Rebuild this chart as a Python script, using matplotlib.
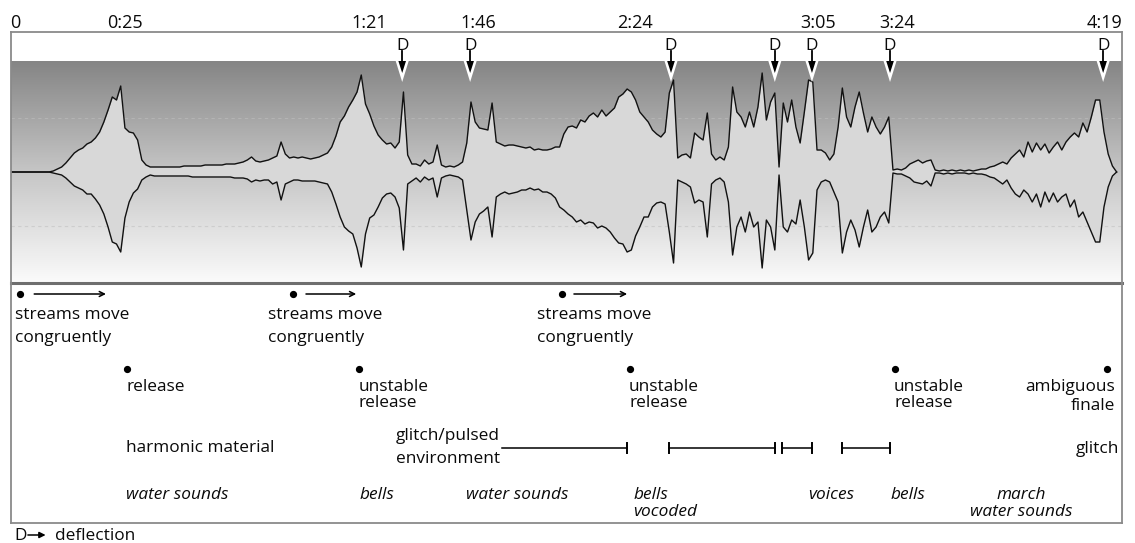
import numpy as np
import matplotlib
matplotlib.use('Agg')
import matplotlib.pyplot as plt
from matplotlib.colors import LinearSegmentedColormap
from matplotlib.patches import Polygon

plt.rcParams['font.family'] = ['Open Sans', 'DejaVu Sans']

# ---------------- data ----------------
# waveform envelope sampled once per second (amplitude, arbitrary units)
env_t = np.arange(0, 263)
env_upper = [
    0, 0, 0, 0, 0, 0, 0, 0, 0, 0,
    1, 3, 5, 9, 14, 19, 22, 24, 28, 30,
    34, 40, 50, 62, 75, 72, 86, 44, 40, 39,
    32, 12, 7, 5, 5, 5, 5, 5, 5, 5,
    5, 6, 6, 6, 6, 6, 7, 7, 7, 7,
    7, 8, 8, 8, 9, 10, 12, 15, 11, 10,
    11, 12, 14, 16, 30, 18, 14, 15, 14, 15,
    14, 13, 14, 15, 17, 19, 25, 36, 50, 56,
    65, 72, 80, 97, 68, 58, 46, 37, 32, 28,
    29, 24, 30, 80, 17, 8, 8, 6, 12, 8,
    10, 27, 7, 5, 6, 5, 7, 10, 29, 70,
    50, 44, 43, 42, 69, 30, 28, 26, 27, 27,
    26, 25, 24, 25, 22, 23, 22, 22, 23, 25,
    25, 38, 45, 46, 44, 52, 50, 56, 59, 55,
    62, 56, 60, 64, 75, 78, 83, 80, 72, 60,
    55, 50, 42, 38, 35, 40, 79, 92, 14, 17,
    18, 14, 39, 35, 32, 59, 18, 12, 15, 12,
    25, 85, 60, 55, 45, 60, 45, 65, 99, 52,
    70, 79, 5, 69, 50, 72, 45, 29, 60, 92,
    90, 22, 22, 19, 12, 18, 45, 84, 55, 45,
    65, 80, 59, 40, 55, 45, 38, 45, 55, 2,
    3, 2, 4, 8, 10, 12, 9, 11, 12, 2,
    1, 2, 1, 2, 1, 2, 1, 2, 1, 2,
    3, 3, 5, 6, 8, 10, 8, 14, 18, 22,
    15, 30, 20, 29, 22, 28, 19, 25, 30, 22,
    30, 35, 39, 35, 49, 40, 55, 72, 72, 40,
    18, 6, 0,
]
env_lower = [
    0, 0, 0, 0, 0, 0, 0, 0, 0, 0,
    1, 2, 3, 6, 10, 14, 16, 18, 22, 22,
    27, 33, 42, 55, 70, 72, 80, 46, 30, 21,
    17, 8, 5, 3, 4, 4, 4, 4, 4, 4,
    4, 4, 4, 5, 5, 5, 5, 5, 5, 5,
    5, 5, 5, 6, 6, 6, 7, 10, 8, 9,
    8, 8, 12, 10, 28, 12, 10, 8, 8, 9,
    9, 9, 9, 10, 11, 12, 20, 32, 45, 55,
    59, 62, 76, 95, 62, 46, 43, 35, 26, 22,
    21, 25, 36, 78, 12, 9, 6, 10, 5, 8,
    6, 25, 6, 4, 3, 4, 5, 8, 38, 68,
    50, 42, 39, 35, 65, 25, 22, 20, 22, 21,
    20, 18, 18, 16, 18, 17, 20, 20, 22, 26,
    35, 38, 42, 45, 50, 48, 52, 50, 51, 56,
    54, 56, 60, 66, 71, 72, 80, 78, 64, 55,
    45, 45, 35, 31, 30, 32, 60, 91, 8, 10,
    12, 15, 31, 28, 30, 65, 12, 8, 6, 10,
    30, 83, 55, 45, 60, 40, 55, 50, 96, 48,
    55, 78, 3, 55, 60, 48, 52, 28, 55, 88,
    81, 18, 10, 8, 10, 20, 30, 81, 60, 48,
    58, 75, 55, 38, 60, 55, 45, 40, 51, 1,
    2, 2, 4, 6, 10, 11, 12, 9, 14, 1,
    1, 2, 1, 2, 1, 1, 1, 2, 1, 2,
    2, 3, 5, 6, 9, 12, 8, 16, 22, 25,
    18, 22, 30, 22, 35, 20, 30, 21, 30, 25,
    22, 35, 28, 45, 40, 50, 60, 70, 70, 35,
    15, 4, 0,
]

tick_pos = [1.0, 27.0, 84.8, 110.7, 147.9, 191.2, 210.0, 259.2]
tick_labels = ['0', '0:25', '1:21', '1:46', '2:24', '3:05', '3:24', '4:19']

deflections = [92.7, 108.8, 156.4, 181.0, 189.8, 208.3, 258.8]

stream_dots = [2.1, 66.8, 130.6]
stream_arrow_from = [5.5, 69.9, 133.4]
stream_arrow_to = [22.5, 81.8, 146.0]
stream_text_x = [0.95, 60.9, 124.6]

release_dots = [27.5, 82.5, 146.7, 209.5, 259.7]
release_lines = [['release'], ['unstable', 'release'], ['unstable', 'release'],
                 ['unstable', 'release'], ['ambiguous', 'finale']]

glitch_spans = [(116.4, 146.0), (155.9, 181.0), (182.7, 189.8), (196.9, 208.3)]
glitch_left_tick = [False, True, True, True]

material_labels = [('harmonic material', 27.3), ('glitch', 262.6)]
glitch_env_label = (['glitch/pulsed', 'environment'], 91.2)

sound_labels = [(['water sounds'], 27.3, 'left'),
                (['bells'], 82.5, 'left'),
                (['water sounds'], 107.8, 'left'),
                (['bells', 'vocoded'], 147.4, 'left'),
                (['voices'], 188.9, 'left'),
                (['bells'], 208.3, 'left'),
                (['march', 'water sounds'], 239.3, 'center')]

# ---------------- layout ----------------
W, H = 1135, 543
fig = plt.figure(figsize=(W / 100, H / 100), dpi=100)
fig.patch.set_facecolor('white')


def frac(x0, y0, x1, y1):
    return [x0 / W, 1 - y1 / H, (x1 - x0) / W, (y1 - y0) / H]


T_MAX = (1122 - 11) / 4.22
FS = 12.4
TC = '#0a0a0a'

# waveform panel
axw = fig.add_axes(frac(11, 61, 1122, 283))
axw.set_xlim(0, T_MAX)
axw.set_ylim(-111, 111)
cmap = LinearSegmentedColormap.from_list('g', ['#fbfbfb', '#c6c6c6', '#858585'])
grad = np.linspace(0, 1, 256).reshape(-1, 1)
axw.imshow(grad, aspect='auto', extent=[0, T_MAX, -111, 111], origin='lower',
           cmap=cmap, zorder=0, interpolation='bilinear')
axw.axhline(54, color='#b4b4b4', ls=(0, (3, 3)), lw=0.8, zorder=1)
axw.axhline(-54, color='#cdcdcd', ls=(0, (3, 3)), lw=0.8, zorder=1)
up = np.array(env_upper)
lo = -np.array(env_lower)
axw.fill_between(env_t, up, lo, color='#d8d8d8', lw=0, zorder=2)
axw.plot(env_t, up, color='#111111', lw=1.0, zorder=3)
axw.plot(env_t, lo, color='#111111', lw=1.0, zorder=3)
axw.set_xticks([])
axw.set_yticks([])
for s in ['top', 'left', 'right']:
    axw.spines[s].set_visible(False)
axw.spines['bottom'].set_color('#6e6e6e')
axw.spines['bottom'].set_linewidth(2.2)

# overlay box with annotations (y in pixel rows)
ax = fig.add_axes(frac(11, 32, 1122, 523), zorder=5)
ax.set_facecolor('none')
ax.set_xlim(0, T_MAX)
ax.set_ylim(523, 32)
ax.set_xticks([])
ax.set_yticks([])
for s in ax.spines.values():
    s.set_color('#8a8a8a')
    s.set_linewidth(1.3)

PX = 1 / 4.22  # seconds per pixel

# time labels
for p, lab in zip(tick_pos, tick_labels):
    ax.text(p, 28, lab, ha='center', va='baseline', fontsize=FS + 0.6, color=TC)

# deflection markers
for d in deflections:
    ax.text(d, 50, 'D', ha='center', va='baseline', fontsize=FS, color=TC)
    ax.add_patch(Polygon([(d - 6.5 * PX, 61), (d + 6.5 * PX, 61), (d, 82)],
                         closed=True, fc='white', ec='none', zorder=6, clip_on=False))
    ax.add_patch(Polygon([(d - 3.8 * PX, 61), (d + 3.8 * PX, 61), (d, 73)],
                         closed=True, fc='black', ec='none', zorder=7, clip_on=False))
    ax.plot([d, d], [51, 62], color='black', lw=1.3, zorder=7, clip_on=False)

# streams move congruently
for dx, a0, a1, tx in zip(stream_dots, stream_arrow_from, stream_arrow_to, stream_text_x):
    ax.plot(dx, 294, 'o', color='black', ms=4.2)
    ax.annotate('', xy=(a1, 294), xytext=(a0, 294),
                arrowprops=dict(arrowstyle='->', lw=1.1, color='black',
                                shrinkA=0, shrinkB=0, mutation_scale=9))
    ax.text(tx, 319, 'streams move', ha='left', va='baseline', fontsize=FS, color=TC)
    ax.text(tx, 342, 'congruently', ha='left', va='baseline', fontsize=FS, color=TC)

# release row
for dx, lines in zip(release_dots, release_lines):
    ax.plot(dx, 369, 'o', color='black', ms=4.2)
    if lines[0] == 'ambiguous':
        xt, ha, bl = dx + 8 * PX, 'right', [391, 410]
    else:
        xt, ha, bl = dx - 1 * PX, 'left', [391, 407]
    for ln, b in zip(lines, bl):
        ax.text(xt, b, ln, ha=ha, va='baseline', fontsize=FS, color=TC)

# material row
ax.text(material_labels[0][1], 452, material_labels[0][0], ha='left', va='baseline',
        fontsize=FS, color=TC)
ax.text(material_labels[1][1], 453, material_labels[1][0], ha='right', va='baseline',
        fontsize=FS, color=TC)
for ln, b in zip(glitch_env_label[0], [440, 463]):
    ax.text(glitch_env_label[1], b, ln, ha='left', va='baseline', fontsize=FS, color=TC)
for (g0, g1), lt in zip(glitch_spans, glitch_left_tick):
    ax.plot([g0, g1], [448, 448], color='black', lw=1.1)
    ax.plot([g1, g1], [443, 453], color='black', lw=1.4)
    if lt:
        ax.plot([g0, g0], [443, 453], color='black', lw=1.4)

# sound sources row (italic)
for lines, x, ha in sound_labels:
    bls = [499, 516]
    for ln, b in zip(lines, bls):
        ax.text(x, b, ln, ha=ha, va='baseline', fontsize=FS, style='italic', color=TC)

# legend
ax.text(0.7, 540, 'D', ha='left', va='baseline', fontsize=FS, color=TC)
ax.annotate('', xy=(8.2, 535), xytext=(4.0, 535), annotation_clip=False,
            arrowprops=dict(arrowstyle='-|>', lw=1.1, color='black',
                            shrinkA=0, shrinkB=0, mutation_scale=9))
ax.text(10.4, 540, 'deflection', ha='left', va='baseline', fontsize=FS, color=TC)

fig.savefig('out.png', dpi=100, facecolor='white')
